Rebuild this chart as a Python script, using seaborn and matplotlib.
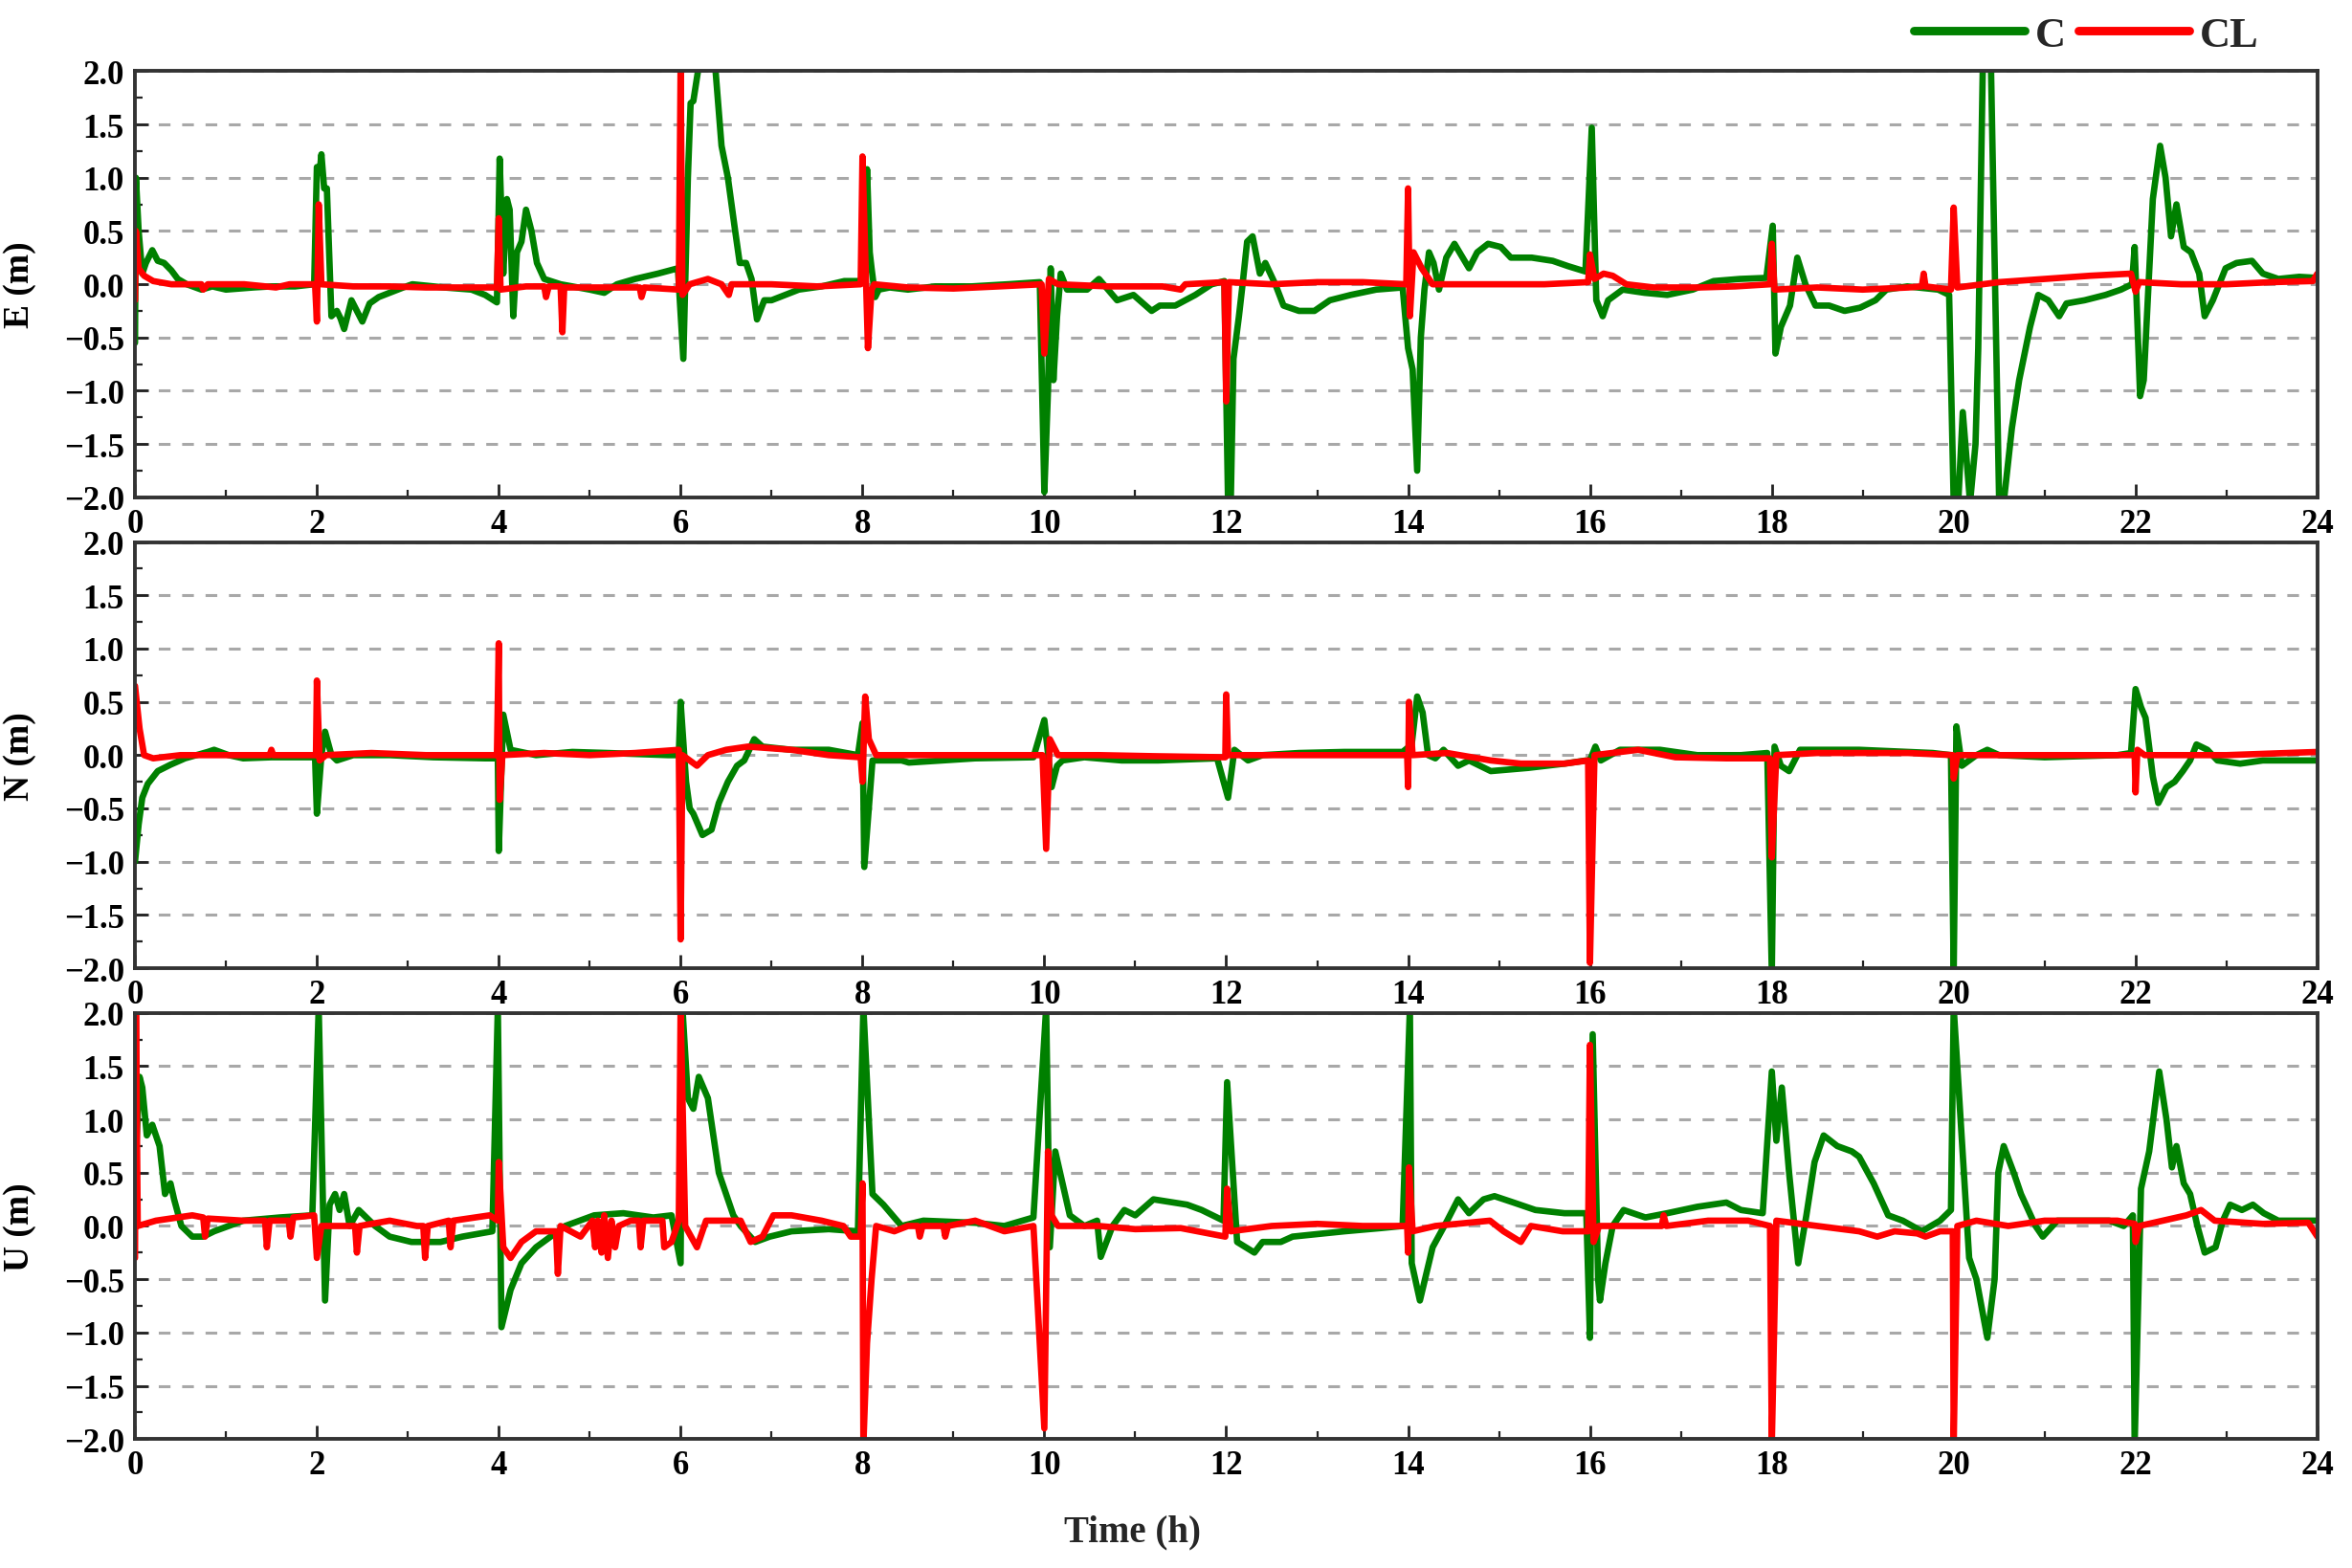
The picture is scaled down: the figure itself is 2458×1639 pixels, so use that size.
import matplotlib
matplotlib.use("Agg")
import matplotlib.pyplot as plt
from matplotlib.ticker import MultipleLocator, FuncFormatter
from matplotlib.lines import Line2D
import seaborn as sns
import pandas as pd

# ---------------- data (time in hours, error in metres) ----------------
series_names = ["C", "CL"]
panel_labels = ["E (m)", "N (m)", "U (m)"]
x_ticks = list(range(0, 25, 2))

E_C = [(0.00,-0.55),(0.01,1.00),(0.04,0.50),(0.08,0.10),(0.12,0.20),(0.19,0.32),(0.25,0.22),(0.32,0.20),(0.40,0.13),(0.47,0.05),(0.57,0.00),(0.73,-0.05),(0.85,-0.02),(1.00,-0.05),(1.30,-0.03),(1.50,-0.02),(1.76,-0.02),(1.97,0.00),
       (2.00,1.10),(2.03,1.05),(2.05,1.22),(2.08,0.90),(2.11,0.90),(2.16,-0.30),(2.22,-0.25),(2.26,-0.32),(2.30,-0.42),(2.38,-0.15),(2.44,-0.25),(2.50,-0.35),(2.58,-0.18),(2.68,-0.12),(2.80,-0.08),(2.95,-0.03),(3.05,0.00),(3.40,-0.03),(3.70,-0.05),(3.85,-0.10),(3.98,-0.17),
       (4.01,1.18),(4.05,0.10),(4.09,0.80),(4.12,0.70),(4.16,-0.30),(4.20,0.30),(4.25,0.40),(4.30,0.70),(4.36,0.50),(4.42,0.20),(4.50,0.05),(4.68,0.00),(5.00,-0.05),(5.16,-0.08),(5.30,0.00),(5.50,0.05),(5.75,0.10),(5.97,0.15),
       (6.03,-0.70),(6.08,1.00),(6.11,1.70),(6.14,1.72),(6.20,2.05),(6.38,2.05),(6.45,1.30),(6.52,1.00),(6.60,0.50),(6.65,0.20),(6.72,0.20),(6.78,0.05),(6.84,-0.33),(6.92,-0.15),(7.00,-0.15),(7.30,-0.05),(7.55,-0.02),(7.80,0.03),(7.97,0.03),
       (8.02,0.10),(8.05,1.08),(8.08,0.30),(8.10,0.15),(8.14,-0.12),(8.18,-0.05),(8.30,-0.03),(8.50,-0.05),(8.80,-0.02),(9.20,-0.02),(9.60,0.00),(9.95,0.02),
       (10.00,-1.95),(10.04,-1.00),(10.07,0.15),(10.10,-0.90),(10.14,-0.30),(10.18,0.10),(10.25,-0.05),(10.47,-0.05),(10.60,0.05),(10.70,-0.05),(10.80,-0.15),(10.98,-0.10),(11.18,-0.25),(11.27,-0.20),(11.44,-0.20),(11.66,-0.10),(11.84,0.00),(11.98,0.03),
       (12.02,-2.05),(12.05,-2.05),(12.08,-0.70),(12.14,-0.30),(12.18,0.00),(12.23,0.40),(12.29,0.45),(12.37,0.10),(12.43,0.20),(12.54,0.00),(12.63,-0.20),(12.80,-0.25),(12.97,-0.25),(13.14,-0.15),(13.37,-0.10),(13.65,-0.05),(13.94,-0.03),
       (14.00,-0.60),(14.05,-0.80),(14.10,-1.75),(14.14,-0.50),(14.18,-0.05),(14.23,0.30),(14.28,0.20),(14.34,-0.05),(14.42,0.25),(14.51,0.38),(14.60,0.25),(14.67,0.15),(14.76,0.30),(14.88,0.38),(15.02,0.35),(15.13,0.25),(15.36,0.25),(15.59,0.22),(15.76,0.17),(15.95,0.12),
       (16.02,1.47),(16.07,-0.15),(16.14,-0.30),(16.20,-0.15),(16.36,-0.05),(16.60,-0.08),(16.85,-0.10),(17.13,-0.05),(17.36,0.03),(17.65,0.05),(17.94,0.06),
       (18.01,0.55),(18.04,-0.65),(18.10,-0.40),(18.20,-0.20),(18.28,0.25),(18.37,0.00),(18.48,-0.20),(18.63,-0.20),(18.80,-0.25),(18.97,-0.22),(19.14,-0.15),(19.26,-0.05),(19.49,-0.02),(19.83,-0.05),(19.95,-0.10),
       (20.00,-2.05),(20.05,-2.05),(20.10,-1.20),(20.18,-2.05),(20.24,-1.50),(20.27,-0.60),(20.32,2.05),(20.41,2.05),(20.50,-2.05),(20.55,-2.05),(20.64,-1.35),(20.72,-0.90),(20.84,-0.40),(20.93,-0.10),(21.04,-0.15),(21.16,-0.30),(21.24,-0.18),(21.44,-0.15),(21.67,-0.10),(21.84,-0.05),(21.96,0.00),
       (21.99,0.35),(22.05,-1.05),(22.09,-0.90),(22.19,0.80),(22.27,1.30),(22.33,1.00),(22.39,0.45),(22.45,0.75),(22.53,0.35),(22.61,0.30),(22.70,0.10),(22.76,-0.30),(22.85,-0.15),(22.99,0.15),(23.11,0.20),(23.28,0.22),(23.40,0.10),(23.57,0.05),(23.80,0.07),(24.00,0.06)]

E_CL = [(0.00,-0.15),(0.01,0.50),(0.04,0.15),(0.10,0.08),(0.20,0.03),(0.40,0.00),(0.73,0.00),(0.75,-0.05),(0.80,0.00),(1.20,0.00),(1.55,-0.03),(1.70,0.00),(1.98,0.00),(2.00,-0.35),(2.02,0.75),(2.05,0.00),(2.40,-0.02),(2.80,-0.02),(3.20,-0.03),(3.60,-0.03),(3.98,-0.03),
        (4.00,0.62),(4.02,-0.05),(4.30,-0.02),(4.50,-0.02),(4.52,-0.12),(4.55,-0.02),(4.68,-0.02),(4.70,-0.45),(4.72,-0.03),(5.00,-0.03),(5.30,-0.03),(5.55,-0.03),(5.57,-0.12),(5.60,-0.03),(5.98,-0.05),
        (6.00,2.05),(6.02,-0.10),(6.10,0.00),(6.30,0.05),(6.45,0.00),(6.53,-0.10),(6.56,0.00),(7.00,0.00),(7.50,-0.02),(7.98,0.00),
        (8.00,1.20),(8.06,-0.60),(8.10,-0.05),(8.13,0.00),(8.50,-0.03),(9.00,-0.04),(9.50,-0.02),(9.97,0.00),(10.00,-0.65),(10.05,0.05),(10.15,0.00),(10.70,-0.02),(11.30,-0.02),(11.50,-0.05),(11.55,0.00),(11.98,0.02),
        (12.00,-1.10),(12.03,0.02),(12.50,0.00),(13.00,0.02),(13.50,0.02),(13.98,0.00),(14.00,0.90),(14.02,-0.30),(14.06,0.30),(14.15,0.15),(14.27,0.00),(14.80,0.00),(15.50,0.00),(15.98,0.02),
        (16.00,0.28),(16.05,0.05),(16.15,0.10),(16.25,0.08),(16.40,0.00),(16.70,-0.03),(17.20,-0.03),(17.60,-0.02),(17.98,0.00),(18.00,0.38),(18.03,-0.05),(18.50,-0.03),(19.00,-0.05),(19.50,-0.03),(19.65,-0.02),(19.67,0.10),(19.69,-0.02),(19.97,-0.05),
        (20.00,0.72),(20.04,-0.03),(20.50,0.02),(21.00,0.05),(21.50,0.08),(21.95,0.10),(22.00,-0.07),(22.04,0.02),(22.50,0.00),(23.00,0.00),(23.50,0.02),(23.95,0.03),(24.00,0.10)]

N_C = [(0.00,-1.00),(0.04,-0.65),(0.08,-0.40),(0.14,-0.27),(0.25,-0.15),(0.39,-0.09),(0.55,-0.03),(0.80,0.03),(0.87,0.05),(1.03,0.00),(1.19,-0.03),(1.50,-0.02),(1.83,-0.02),(1.98,-0.02),
       (2.00,-0.55),(2.05,0.00),(2.09,0.22),(2.16,0.00),(2.22,-0.05),(2.40,0.00),(2.80,0.00),(3.28,-0.02),(3.85,-0.03),(3.99,-0.03),
       (4.00,-0.90),(4.05,0.38),(4.13,0.05),(4.41,0.00),(4.81,0.03),(5.20,0.02),(5.86,0.00),(5.98,0.00),
       (6.00,0.50),(6.06,-0.25),(6.10,-0.50),(6.14,-0.55),(6.24,-0.75),(6.34,-0.70),(6.42,-0.45),(6.52,-0.25),(6.62,-0.10),(6.70,-0.05),(6.81,0.15),(6.90,0.08),(7.22,0.05),(7.63,0.05),(7.95,0.00),
       (8.00,0.30),(8.02,-1.05),(8.11,-0.05),(8.43,-0.05),(8.51,-0.07),(9.24,-0.03),(9.88,-0.02),
       (10.00,0.33),(10.08,-0.30),(10.14,-0.10),(10.20,-0.05),(10.44,-0.02),(10.85,-0.05),(11.25,-0.05),(11.90,-0.03),
       (12.02,-0.40),(12.09,0.05),(12.24,-0.05),(12.40,0.00),(12.80,0.02),(13.30,0.03),(13.94,0.03),
       (14.04,0.10),(14.10,0.55),(14.16,0.40),(14.22,0.00),(14.30,-0.03),(14.39,0.05),(14.55,-0.10),(14.67,-0.05),(14.91,-0.15),(15.32,-0.12),(15.72,-0.08),(15.96,-0.05),
       (16.00,-0.05),(16.06,0.08),(16.12,-0.05),(16.33,0.05),(16.77,0.05),(17.18,0.00),(17.66,0.00),(17.95,0.02),
       (18.00,-2.05),(18.03,0.08),(18.10,-0.10),(18.19,-0.15),(18.31,0.05),(18.96,0.05),(19.77,0.02),(19.97,0.00),
       (20.00,-2.05),(20.03,0.27),(20.09,-0.10),(20.25,0.00),(20.37,0.05),(20.50,0.00),(21.00,-0.02),(21.80,0.00),(21.95,0.02),
       (22.00,0.62),(22.06,0.45),(22.11,0.35),(22.19,-0.20),(22.25,-0.45),(22.34,-0.30),(22.43,-0.25),(22.52,-0.15),(22.60,-0.05),(22.67,0.10),(22.79,0.05),(22.90,-0.05),(23.15,-0.08),(23.40,-0.05),(23.73,-0.05),(24.00,-0.05)]

N_CL = [(0.00,0.65),(0.05,0.25),(0.10,0.00),(0.20,-0.03),(0.50,0.00),(1.00,0.00),(1.48,0.00),(1.50,0.05),(1.52,0.00),(1.99,0.00),
        (2.00,0.70),(2.03,-0.05),(2.10,0.00),(2.60,0.02),(3.20,0.00),(3.98,0.00),
        (4.00,1.05),(4.01,-0.42),(4.04,0.00),(4.50,0.02),(5.00,0.00),(5.50,0.02),(5.98,0.05),
        (6.00,-1.73),(6.02,0.00),(6.10,-0.05),(6.18,-0.10),(6.30,0.00),(6.50,0.05),(6.74,0.08),(7.22,0.05),(7.63,0.00),(7.98,-0.02),
        (8.00,-0.25),(8.03,0.55),(8.07,0.15),(8.15,0.00),(8.60,0.00),(9.20,0.00),(9.98,0.00),
        (10.02,-0.88),(10.06,0.15),(10.15,0.00),(10.60,0.00),(11.20,-0.01),(11.99,-0.02),
        (12.00,0.57),(12.02,0.00),(12.60,0.00),(13.20,0.00),(13.99,0.00),
        (14.00,-0.30),(14.01,0.50),(14.05,0.00),(14.43,0.02),(14.91,-0.05),(15.24,-0.08),(15.72,-0.08),(15.98,-0.05),
        (16.00,-1.95),(16.05,0.00),(16.53,0.05),(16.94,-0.02),(17.50,-0.03),(17.98,-0.03),
        (18.00,-0.96),(18.05,0.00),(18.50,0.02),(19.50,0.02),(19.99,0.00),
        (20.00,-0.22),(20.04,0.00),(21.00,0.00),(21.99,0.00),
        (22.00,-0.35),(22.02,0.05),(22.10,0.00),(23.00,0.00),(24.00,0.03)]

U_C = [(0.00,0.50),(0.05,1.40),(0.08,1.30),(0.13,0.85),(0.19,0.95),(0.27,0.75),(0.33,0.30),(0.39,0.40),(0.43,0.25),(0.51,0.00),(0.63,-0.10),(0.75,-0.10),(0.87,-0.05),(1.19,0.05),(1.59,0.08),(1.95,0.10),
       (2.02,2.05),(2.09,-0.70),(2.14,0.20),(2.20,0.30),(2.25,0.15),(2.30,0.30),(2.36,0.00),(2.46,0.15),(2.64,0.00),(2.80,-0.10),(3.04,-0.15),(3.36,-0.15),(3.60,-0.10),(3.93,-0.05),
       (3.99,2.05),(4.03,-0.95),(4.13,-0.60),(4.25,-0.35),(4.41,-0.20),(4.57,-0.10),(4.73,0.00),(5.05,0.10),(5.37,0.12),(5.70,0.08),(5.90,0.10),
       (6.00,-0.35),(6.02,2.05),(6.08,1.20),(6.14,1.10),(6.20,1.40),(6.30,1.20),(6.42,0.50),(6.58,0.10),(6.66,0.00),(6.82,-0.15),(6.98,-0.10),(7.22,-0.05),(7.63,-0.03),(7.95,-0.05),
       (8.01,2.05),(8.11,0.30),(8.23,0.20),(8.43,0.00),(8.67,0.05),(9.24,0.03),(9.56,0.00),(9.88,0.08),
       (10.02,2.05),(10.06,-0.20),(10.12,0.70),(10.28,0.10),(10.44,0.00),(10.58,0.05),(10.62,-0.29),(10.75,0.00),(10.88,0.15),(11.00,0.10),(11.20,0.25),(11.57,0.20),(11.73,0.15),(11.97,0.05),
       (12.01,1.35),(12.12,-0.15),(12.31,-0.25),(12.40,-0.15),(12.60,-0.15),(12.73,-0.10),(13.30,-0.05),(13.70,-0.02),(13.94,0.00),
       (14.02,2.05),(14.04,-0.35),(14.13,-0.70),(14.27,-0.20),(14.43,0.05),(14.55,0.25),(14.67,0.12),(14.83,0.25),(14.95,0.28),(15.16,0.22),(15.40,0.15),(15.72,0.12),(15.96,0.12),
       (16.00,-1.05),(16.03,1.80),(16.09,-0.50),(16.11,-0.70),(16.17,-0.35),(16.25,0.00),(16.37,0.15),(16.61,0.08),(16.85,0.12),(17.18,0.18),(17.50,0.22),(17.66,0.15),(17.90,0.12),
       (18.00,1.45),(18.05,0.80),(18.11,1.30),(18.19,0.50),(18.29,-0.35),(18.38,0.10),(18.47,0.60),(18.57,0.85),(18.72,0.75),(18.88,0.70),(18.96,0.65),(19.12,0.40),(19.28,0.10),(19.44,0.05),(19.65,-0.05),(19.85,0.05),(19.97,0.15),
       (20.00,2.05),(20.09,0.80),(20.17,-0.30),(20.25,-0.50),(20.37,-1.05),(20.45,-0.50),(20.49,0.50),(20.55,0.75),(20.66,0.50),(20.74,0.30),(20.90,0.00),(20.98,-0.10),(21.14,0.05),(21.47,0.05),(21.71,0.05),(21.87,0.00),(21.97,0.10),
       (21.99,-2.05),(22.06,0.35),(22.15,0.70),(22.26,1.45),(22.34,1.00),(22.40,0.55),(22.45,0.75),(22.53,0.40),(22.60,0.30),(22.68,0.00),(22.76,-0.25),(22.88,-0.20),(22.96,0.05),(23.04,0.20),(23.17,0.15),(23.29,0.20),(23.41,0.12),(23.57,0.05),(24.00,0.05)]

U_CL = [(0.00,-0.30),(0.01,2.05),(0.03,0.00),(0.23,0.05),(0.63,0.10),(0.75,0.08),(0.77,-0.10),(0.80,0.07),(1.19,0.05),(1.43,0.05),(1.45,-0.20),(1.48,0.05),(1.69,0.05),(1.71,-0.10),(1.74,0.08),(1.97,0.10),
        (2.00,-0.30),(2.05,0.00),(2.30,0.00),(2.42,0.00),(2.44,-0.25),(2.47,0.00),(2.80,0.05),(3.10,0.00),(3.17,0.00),(3.19,-0.30),(3.22,0.00),(3.45,0.05),(3.47,-0.20),(3.50,0.05),(3.90,0.10),(3.99,0.05),
        (4.00,0.60),(4.05,-0.20),(4.13,-0.30),(4.25,-0.15),(4.41,-0.05),(4.63,-0.05),(4.65,-0.45),(4.68,0.00),(4.90,-0.10),(5.03,0.05),(5.06,-0.20),(5.09,0.05),(5.13,-0.25),(5.16,0.10),(5.20,-0.30),(5.24,0.05),(5.28,-0.20),(5.32,0.00),(5.45,0.05),(5.54,0.05),(5.56,-0.20),(5.59,0.05),(5.80,0.05),(5.82,-0.20),(5.90,-0.15),(5.98,0.05),
        (6.00,2.05),(6.05,0.00),(6.18,-0.20),(6.28,0.05),(6.66,0.05),(6.77,-0.15),(6.90,-0.10),(7.02,0.10),(7.22,0.10),(7.55,0.05),(7.79,0.00),(7.87,-0.10),(7.98,-0.10),
        (8.00,0.40),(8.01,-2.05),(8.05,-1.10),(8.10,-0.50),(8.15,0.00),(8.35,-0.05),(8.50,0.00),(8.61,0.00),(8.63,-0.10),(8.66,0.00),(8.89,0.00),(8.91,-0.10),(8.94,0.00),(9.24,0.05),(9.56,-0.05),(9.88,0.00),
        (10.00,-1.90),(10.04,0.70),(10.08,0.10),(10.15,0.00),(10.60,0.00),(11.00,-0.03),(11.50,-0.02),(11.99,-0.10),
        (12.01,0.35),(12.05,-0.05),(12.50,0.00),(13.00,0.02),(13.50,0.00),(13.99,0.00),
        (14.00,-0.25),(14.01,0.55),(14.05,-0.05),(14.30,0.00),(14.90,0.05),(15.05,-0.05),(15.24,-0.15),(15.35,0.00),(15.70,-0.05),(15.98,-0.05),
        (16.00,1.70),(16.04,-0.15),(16.10,0.00),(16.50,0.00),(16.79,0.00),(16.81,0.10),(16.84,0.00),(17.30,0.05),(17.74,0.05),(17.98,0.00),
        (18.00,-2.05),(18.05,0.05),(18.50,0.00),(18.96,-0.05),(19.16,-0.10),(19.35,-0.05),(19.60,-0.07),(19.69,-0.10),(19.85,-0.05),(19.99,-0.05),
        (20.00,-2.05),(20.04,0.00),(20.25,0.05),(20.60,0.00),(21.00,0.05),(21.80,0.05),(21.99,0.02),
        (22.00,-0.15),(22.04,0.00),(22.30,0.05),(22.56,0.10),(22.72,0.15),(22.87,0.05),(23.40,0.02),(23.90,0.03),(24.00,-0.10)]

panels = [(E_C, E_CL), (N_C, N_CL), (U_C, U_CL)]
colors = {"C": "#008000", "CL": "#FF0000"}

# ---------------- style ----------------
sns.set_theme(style="white")
plt.rcParams["font.family"] = ["Liberation Serif", "DejaVu Serif"]
plt.rcParams["font.weight"] = "bold"
plt.rcParams["axes.labelweight"] = "bold"
plt.rcParams["axes.unicode_minus"] = True

fig, axes = plt.subplots(3, 1, figsize=(12.29, 8.2), dpi=200)
fig.subplots_adjust(left=0.0574, right=0.9853, top=0.954, bottom=0.0822, hspace=0.105)

fmt = FuncFormatter(lambda v, p: ("%.1f" % v).replace("-", "\u2212"))

for ax, (c_pts, cl_pts), lab in zip(axes, panels, panel_labels):
    rows = []
    for name, pts in zip(series_names, (c_pts, cl_pts)):
        for i, (t, v) in enumerate(pts):
            rows.append({"t": t, "v": v, "series": name, "order": i})
    df = pd.DataFrame(rows)
    sns.lineplot(data=df, x="t", y="v", hue="series", hue_order=series_names,
                 palette=colors, estimator=None, sort=False, linewidth=2.4,
                 ax=ax, legend=False)
    ax.set_xlim(0, 24)
    ax.set_ylim(-2, 2)
    ax.set_xticks(x_ticks)
    ax.xaxis.set_minor_locator(MultipleLocator(1))
    ax.yaxis.set_major_locator(MultipleLocator(0.5))
    ax.yaxis.set_minor_locator(MultipleLocator(0.25))
    ax.yaxis.set_major_formatter(fmt)
    ax.tick_params(axis="both", which="major", direction="in", length=5, width=1.0,
                   labelsize=12.5, pad=4, bottom=True, left=True, colors="#222222")
    ax.tick_params(axis="both", which="minor", direction="in", length=3, width=0.8,
                   bottom=True, left=True, colors="#222222")
    for lbl in ax.get_xticklabels() + ax.get_yticklabels():
        lbl.set_fontweight("bold")
        lbl.set_color("black")
    ax.grid(False)
    ax.yaxis.grid(True, which="major", linestyle=(0, (4, 4)), color="#a8a8a8", linewidth=1.1)
    ax.set_axisbelow(True)
    for sp in ax.spines.values():
        sp.set_color("#333333")
        sp.set_linewidth(1.4)
    ax.set_xlabel("")
    ax.set_ylabel(lab, fontsize=13.5, fontweight="bold", color="black")
    ax.yaxis.set_label_coords(-0.045, 0.5)

fig.text(0.4815, 0.023, "Time (h)", ha="center", va="center",
         fontsize=14, fontweight="bold")

handles = [Line2D([0], [0], color=colors[n], lw=3.2, solid_capstyle="round") for n in series_names]
fig.legend(handles, series_names, loc="center", bbox_to_anchor=(0.887, 0.977),
           ncol=2, frameon=False, handlelength=2.6, handletextpad=0.25,
           columnspacing=0.3, prop={"size": 16, "weight": "bold"})

fig.savefig("out.png", dpi=200)
